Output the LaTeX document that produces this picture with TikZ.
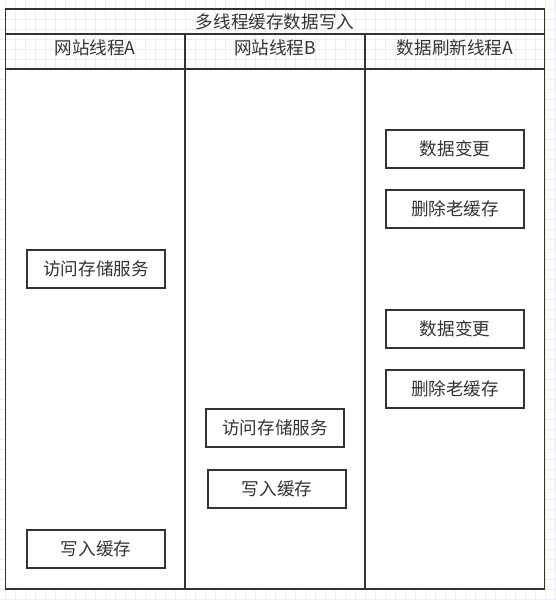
\documentclass[tikz,border=0pt]{standalone}
\usepackage{fontspec}
\setmainfont{Noto Sans CJK SC}
\usetikzlibrary{positioning}

\definecolor{linegray}{HTML}{333333}
\definecolor{gridblue}{RGB}{236,236,250}

\begin{document}
\begin{tikzpicture}[x=1pt,y=-1pt,node distance=20pt,
    frame/.style={draw=linegray,line width=1.8pt},
    task/.style={draw=linegray,line width=1.8pt,fill=white,minimum width=138pt,
      minimum height=38pt,inner sep=0pt,text=linegray,font=\fontsize{17.6}{20}\selectfont},
    lbl/.style={text=linegray,inner sep=0pt,font=\fontsize{17.6}{20}\selectfont}]
    \useasboundingbox (0,0) rectangle (555,600);

    % background grid
    \foreach \gx in {5,15,...,555}
      \draw[gridblue,line width=0.7pt] (\gx,0) -- (\gx,600);
    \foreach \gy in {9,19,...,599}
      \draw[gridblue,line width=0.7pt] (0,\gy) -- (555,\gy);

    % pool
    \fill[white] (5.5,68.7) rectangle (544.5,589);
    \draw[frame] (5.5,9) rectangle (544.5,589);
    \draw[frame] (5.5,34.3) -- (544.5,34.3);
    \draw[frame] (5.5,68.7) -- (544.5,68.7);
    \draw[frame] (185,34.3) -- (185,589);
    \draw[frame] (365,34.3) -- (365,589);

    \node[lbl] (title)  at (275,22) {多线程缓存数据写入};
    \node[lbl] (laneA)  at (95,48)  {网站线程A};
    \node[lbl] (laneB)  at (275,48) {网站线程B};
    \node[lbl] (laneC)  at (455,48) {数据刷新线程A};

    % tasks
    \node[task] (visitA)              at (96,269)  {访问存储服务};
    \node[task] (writeA)              at (96,549)  {写入缓存};
    \node[task] (visitB)              at (275,428) {访问存储服务};
    \node[task] (writeB) [below=21pt of visitB,xshift=2pt] {写入缓存};
    \node[task] (changeC)             at (455,149) {数据变更};
    \node[task] (deleteC) [below=of changeC]  {删除老缓存};
    \node[task] (changeD)             at (455,329) {数据变更};
    \node[task] (deleteD) [below=of changeD]  {删除老缓存};
\end{tikzpicture}
\end{document}
